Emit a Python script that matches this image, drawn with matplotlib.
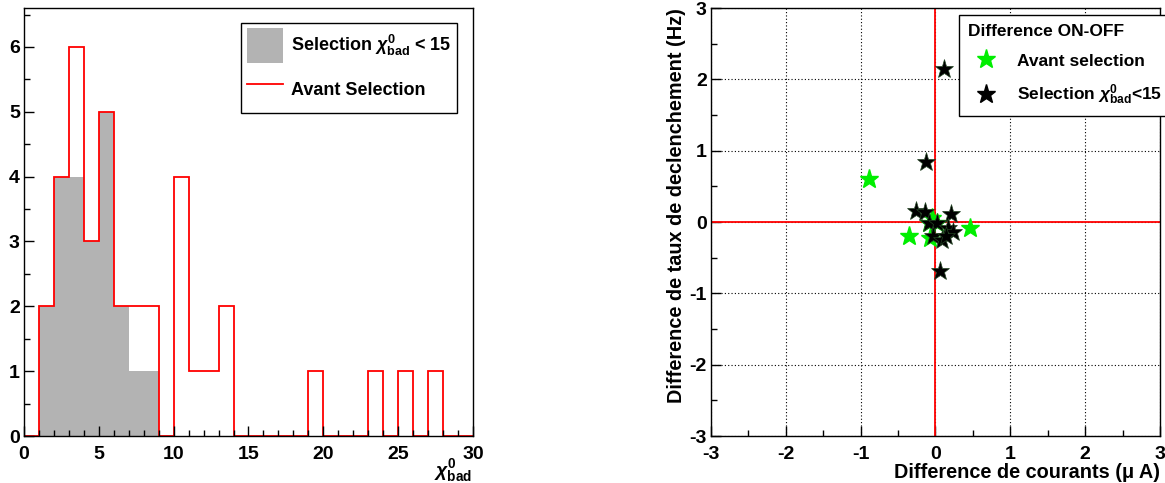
import matplotlib
matplotlib.use("Agg")
import matplotlib.pyplot as plt
import numpy as np
from matplotlib.patches import Patch
from matplotlib.lines import Line2D
from matplotlib.ticker import MultipleLocator

plt.rcParams['font.family'] = ['Liberation Sans', 'DejaVu Sans']
plt.rcParams['font.weight'] = 'bold'
plt.rcParams['axes.unicode_minus'] = False
plt.rcParams['mathtext.fontset'] = 'custom'
plt.rcParams['mathtext.rm'] = 'Liberation Sans:bold'
plt.rcParams['mathtext.it'] = 'Liberation Sans:italic:bold'
plt.rcParams['mathtext.bf'] = 'Liberation Sans:bold'

# histogram, bins of width 1 from 0 to 30
bin_edges = np.arange(0, 31, 1)
avant_counts = [0, 2, 4, 6, 3, 5, 2, 2, 2, 0,
                4, 1, 1, 2, 0, 0, 0, 0, 0, 1,
                0, 0, 0, 1, 0, 1, 0, 1, 0, 0]
selection_counts = [0, 2, 4, 4, 3, 5, 2, 1, 1, 0,
                    0, 0, 0, 0, 0, 0, 0, 0, 0, 0,
                    0, 0, 0, 0, 0, 0, 0, 0, 0, 0]

# ON-OFF differences
avant_dx = [-0.89, -0.35, 0.46, -0.08, -0.05, 0.02, -0.09]
avant_dy = [0.61, -0.20, -0.09, -0.22, 0.05, -0.02, -0.02]
sel_dx = [0.12, -0.13, -0.26, -0.14, 0.21, -0.09, 0.02, 0.17, 0.23, -0.03, 0.09, 0.14, 0.06]
sel_dy = [2.15, 0.84, 0.16, 0.14, 0.11, -0.02, -0.02, -0.09, -0.14, -0.20, -0.25, -0.20, -0.68]

fig = plt.figure(figsize=(11.65, 4.83), dpi=100)
fs = 14

def root_style(ax):
    ax.tick_params(which='both', direction='in', top=False, right=False,
                   labelsize=fs, width=1)
    ax.tick_params(axis='x', pad=7)
    ax.tick_params(axis='y', pad=3)
    ax.tick_params(which='major', length=7)
    ax.tick_params(which='minor', length=4)
    for lbl in ax.get_xticklabels() + ax.get_yticklabels():
        lbl.set_fontweight('bold')
    for s in ax.spines.values():
        s.set_linewidth(1)

# ---- left: histogram
ax1 = fig.add_axes([0.0206, 0.0973, 0.3854, 0.886])
ax1.stairs(selection_counts, bin_edges, fill=True, color='#b3b3b3', linewidth=0)
ax1.stairs(avant_counts, bin_edges, color='red', linewidth=1.3)
ax1.set_xlim(0, 30)
ax1.set_ylim(0, 6.6)
ax1.xaxis.set_major_locator(MultipleLocator(5))
ax1.xaxis.set_minor_locator(MultipleLocator(1))
ax1.yaxis.set_major_locator(MultipleLocator(1))
ax1.yaxis.set_minor_locator(MultipleLocator(0.5))
root_style(ax1)
ax1.set_xlabel(r'$\chi^{\mathbf{0}}_{\mathbf{bad}}$', fontsize=fs, ha='right')
ax1.xaxis.set_label_coords(0.998, -0.05)
ax1.xaxis.label.set_verticalalignment('top')

h1 = [Patch(facecolor='#b3b3b3', edgecolor='none'),
      Line2D([], [], color='red', lw=1.3)]
leg1 = ax1.legend(h1, [r'Selection $\chi^{\mathbf{0}}_{\mathbf{bad}}$ < 15', 'Avant Selection'],
                  loc='upper right', bbox_to_anchor=(0.964, 0.965), fontsize=13,
                  frameon=True, fancybox=False, edgecolor='black', framealpha=1,
                  handlelength=2.0, handleheight=2.6, labelspacing=0.5,
                  borderpad=0.3, handletextpad=0.45, borderaxespad=0)
leg1.get_frame().set_linewidth(1)

# ---- right: scatter
ax2 = fig.add_axes([0.6103, 0.0973, 0.3854, 0.886])
ax2.set_xlim(-3, 3)
ax2.set_ylim(-3, 3)
ax2.grid(True, which='major', color='black', linestyle=(0, (1, 2)), linewidth=0.8)
ax2.axhline(0, color='red', lw=1.3, zorder=2)
ax2.axvline(0, color='red', lw=1.3, zorder=2)
ax2.plot(avant_dx, avant_dy, linestyle='none', marker='*', markersize=14,
         color='#00ee00', markeredgecolor='#00ee00', zorder=3)
ax2.plot(sel_dx, sel_dy, linestyle='none', marker='*', markersize=14,
         color='black', markeredgecolor='#224422', markeredgewidth=0.5, zorder=4)
ax2.xaxis.set_major_locator(MultipleLocator(1))
ax2.xaxis.set_minor_locator(MultipleLocator(0.5))
ax2.yaxis.set_major_locator(MultipleLocator(1))
ax2.yaxis.set_minor_locator(MultipleLocator(0.5))
root_style(ax2)
ax2.set_xlabel('Difference de courants (\u03bc A)', fontsize=14.3, fontweight='bold', ha='right')
ax2.xaxis.set_label_coords(1.0, -0.062)
ax2.xaxis.label.set_verticalalignment('top')
ax2.set_ylabel('Difference de taux de declenchement (Hz)', fontsize=14.3, fontweight='bold', ha='right')
ax2.yaxis.set_label_coords(-0.056, 1.0)

h2 = [Line2D([], [], linestyle='none', marker='*', markersize=14, color='#00ee00'),
      Line2D([], [], linestyle='none', marker='*', markersize=14, color='black')]
leg2 = ax2.legend(h2, ['Avant selection', r'Selection $\chi^{\mathbf{0}}_{\mathbf{bad}}$<15'],
                  title='Difference ON-OFF', title_fontproperties={'weight': 'bold', 'size': 12.5},
                  loc='upper left', bbox_to_anchor=(0.552, 0.984), fontsize=12.5,
                  frameon=True, fancybox=False, edgecolor='black', framealpha=1,
                  handlelength=2.0, labelspacing=0.8, borderpad=0.55, handletextpad=0.8,
                  borderaxespad=0)
leg2._legend_box.align = 'left'
leg2.get_frame().set_linewidth(1)
leg2.set_clip_on(False)

fig.savefig('out.png', dpi=100)
